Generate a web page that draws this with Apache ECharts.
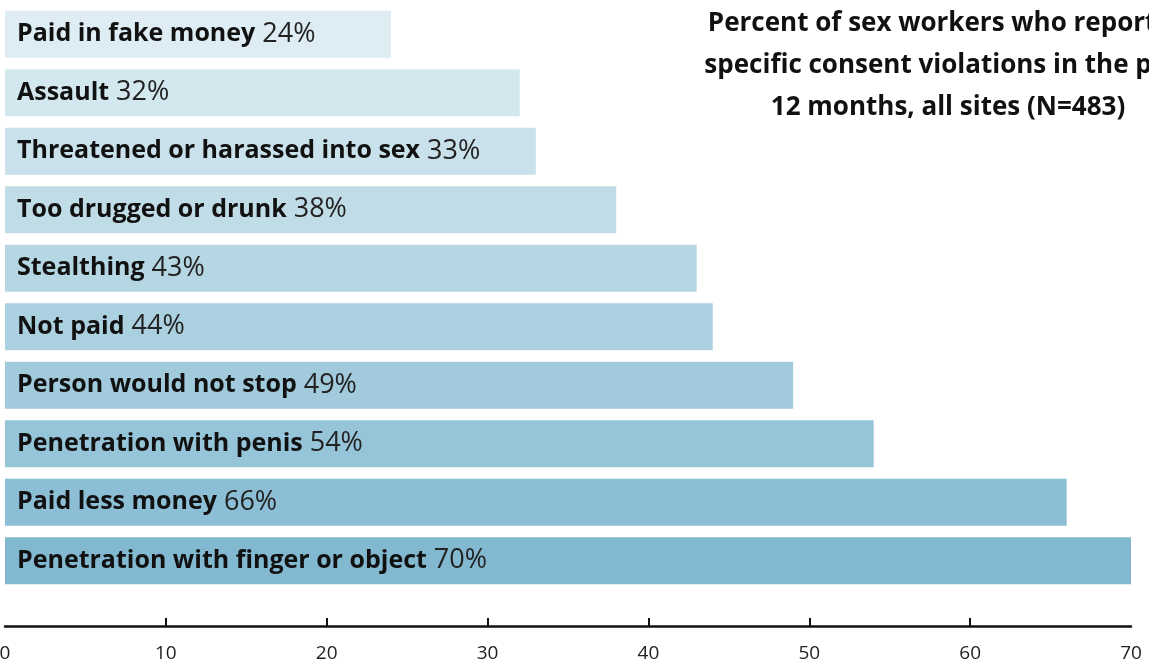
<!DOCTYPE html>
<html>
<head>
<meta charset="utf-8">
<title>Consent violations</title>
<script src="https://cdn.jsdelivr.net/npm/echarts@6/dist/echarts.min.js"></script>
<style>
  html, body { margin: 0; padding: 0; background: #ffffff; }
  #chart { width: 1149px; height: 666px; }
</style>
</head>
<body>
<div id="chart"></div>
<script>
// Violation types, top to bottom
const categories = [
  'Paid in fake money',
  'Assault',
  'Threatened or harassed into sex',
  'Too drugged or drunk',
  'Stealthing',
  'Not paid',
  'Person would not stop',
  'Penetration with penis',
  'Paid less money',
  'Penetration with finger or object'
];
// Percent reporting each violation
const percents = [24, 32, 33, 38, 43, 44, 49, 54, 66, 70];
// Bar fills, light to dark
const barColors = [
  '#deedf3', '#d3e7ef', '#c9e1eb', '#c0dce7', '#b5d6e3',
  '#abd0df', '#a1cadc', '#96c4d9', '#8cbfd5', '#82b9d1'
];
const xTicks = [0, 10, 20, 30, 40, 50, 60, 70];
const titleLines = [
  'Percent of sex workers who reported',
  'specific consent violations in the past',
  '12 months, all sites (N=483)'
];

const FONT = '"Open Sans", "Noto Sans", sans-serif';
const chart = echarts.init(document.getElementById('chart'), null, { renderer: 'canvas' });

chart.setOption({
  animation: false,
  backgroundColor: '#ffffff',
  grid: { left: 5, right: 18, top: 5, bottom: 76, containLabel: false, outerBoundsMode: 'none' },
  xAxis: {
    type: 'value',
    min: xTicks[0],
    max: xTicks[xTicks.length - 1],
    interval: 10,
    position: 'bottom',
    offset: 36,
    axisLine: { show: true, lineStyle: { color: '#111', width: 2.5 } },
    axisTick: {
      show: true, inside: true, length: 8,
      customValues: xTicks.slice(1, -1),
      lineStyle: { color: '#111', width: 2 }
    },
    axisLabel: {
      show: true, margin: 18, fontFamily: FONT, fontSize: 19, color: '#222',
      customValues: xTicks
    },
    splitLine: { show: false }
  },
  yAxis: {
    type: 'category',
    data: categories,
    inverse: true,
    axisLine: { show: false },
    axisTick: { show: false },
    axisLabel: { show: false },
    splitLine: { show: false }
  },
  series: [{
    type: 'bar',
    barCategoryGap: '19.6%',
    data: percents.map((v, i) => ({ value: v, itemStyle: { color: barColors[i] } })),
    label: {
      show: true,
      position: 'insideLeft',
      distance: 12,
      formatter: p => '{b|' + p.name + '}{v|' + p.value + '%}',
      rich: {
        b: { fontFamily: FONT, fontWeight: 'bold', fontSize: 25, color: '#111' },
        v: { fontFamily: FONT, fontWeight: 'normal', fontSize: 27, color: '#222', padding: [0, 0, 0, 7] }
      }
    }
  }],
  graphic: [{
    type: 'text',
    x: 948,
    y: 3,
    style: {
      text: titleLines.join('\n'),
      align: 'center',
      verticalAlign: 'top',
      font: 'bold 26px ' + FONT,
      lineHeight: 42,
      fill: '#111'
    }
  }]
});
</script>
</body>
</html>
